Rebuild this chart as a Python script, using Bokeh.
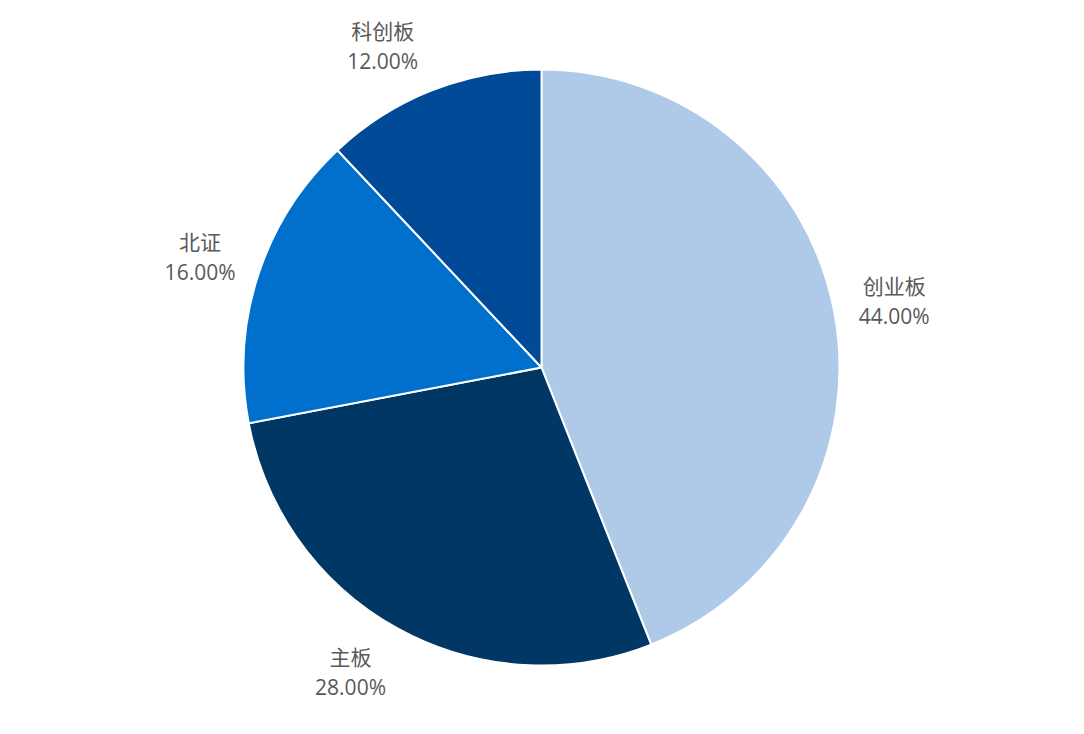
import math
from bokeh.plotting import figure
from bokeh.models import Range1d, ColumnDataSource
from bokeh.core.properties import value
from bokeh.embed import file_html
from bokeh.resources import INLINE

categories = ["创业板", "主板", "北证", "科创板"]
shares = [44.0, 28.0, 16.0, 12.0]
colors = ["#AFC9E9", "#003764", "#0070CC", "#004A98"]

W, H = 1068, 718
cx, cy = 541, H - 367
R = 298
LR = 359
DY_TOP = 322     # max upward offset of label centre
DY_BOT = 304     # max downward offset of label centre

total = sum(shares)
starts, ends, mids = [], [], []
cum = 0.0
for s in shares:
    a0 = math.pi / 2 - 2 * math.pi * cum / total
    cum += s
    a1 = math.pi / 2 - 2 * math.pi * cum / total
    starts.append(a0)
    ends.append(a1)
    mids.append((a0 + a1) / 2)

src = ColumnDataSource(dict(start=starts, end=ends, color=colors))

p = figure(width=W, height=H, output_backend="svg", toolbar_location=None,
           x_range=Range1d(0, W), y_range=Range1d(0, H), min_border=0)
p.axis.visible = False
p.grid.visible = False
p.outline_line_color = None
p.background_fill_color = "white"

p.wedge(x=cx, y=cy, radius=R, start_angle="start", end_angle="end",
        direction="clock", fill_color="color", line_color="white",
        line_width=2, source=src)

lx, ly = [], []
for m in mids:
    dx = LR * math.cos(m)
    dy = LR * math.sin(m)
    if dy > DY_TOP or dy < -DY_BOT:
        dy = DY_TOP if dy > 0 else -DY_BOT
        dx = math.copysign(math.sqrt(LR ** 2 - dy ** 2), dx)
    lx.append(cx + dx)
    ly.append(cy + dy)
pct = [f"{s:.2f}%" for s in shares]

p.text(x=lx, y=[y + 15.5 for y in ly], text=categories, text_align="center",
       text_baseline="middle", text_font=value("Noto Sans CJK SC"),
       text_font_size="21px", text_color="#595959")
p.text(x=lx, y=[y - 15.5 for y in ly], text=pct, text_align="center",
       text_baseline="middle", text_font=value("Open Sans"),
       text_font_size="21px", text_color="#595959")

open("out.html", "w").write(file_html(p, INLINE))
